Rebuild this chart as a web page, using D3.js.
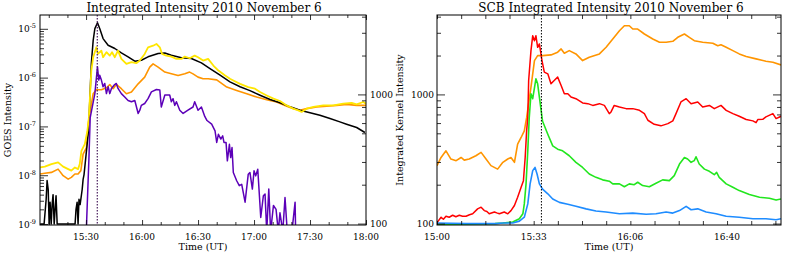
<!DOCTYPE html>
<html>
<head>
<meta charset="utf-8">
<script src="https://cdn.jsdelivr.net/npm/d3@7"></script>
<style>
  body { margin: 0; background: #fff; }
  text { font-family: "DejaVu Serif", serif; fill: #000; }
</style>
</head>
<body>
<svg id="chart" width="789" height="255"></svg>
<script>
// every series: [minutes after 15:00 UT, value]

// GOES 1-8 A flux (left panel, left axis)
const goesLong = [[5.4,1.0e-9],[7.5,1.0e-9],[8.6,3.2e-9],[9.1,7.8e-9],[9.7,5.1e-9],[10.2,1.0e-9],[10.7,2.8e-9],[11.3,1.0e-9],
  [11.8,2.5e-9],[12.3,4.0e-9],[12.9,1.0e-9],[13.4,2.0e-9],[13.9,3.8e-9],[14.5,1.0e-9],[24.1,1.0e-9],[24.6,2.0e-9],[25.2,2.8e-9],
  [25.7,1.0e-9],[26.2,3.2e-9],[26.8,2.5e-9],[27.9,5.1e-9],[28.4,8.2e-9],[28.9,1.03e-8],[30,2.65e-8],[31.1,6.8e-8],[31.6,1.5e-7],
  [32.8,1.95e-6],[33.8,5.8e-6],[34.7,1.01e-5],[36.1,1.33e-5],[37.3,1.01e-5],[39.1,6.3e-6],[41.8,4.6e-6],[45.4,3.95e-6],
  [48.9,3.2e-6],[52.5,2.67e-6],[56.1,2.17e-6],[59.6,2.27e-6],[63.2,2.67e-6],[68.6,3.12e-6],[72.2,3.2e-6],[75.7,2.88e-6],
  [81.1,2.55e-6],[86.4,2.46e-6],[91.8,2.01e-6],[96.4,1.53e-6],[101.8,1.12e-6],[107.1,8.2e-7],[112.5,6.5e-7],[117.8,5.4e-7],
  [123.2,4.36e-7],[128.6,3.56e-7],[133.9,3.05e-7],[139.3,2.52e-7],[144.6,2.15e-7],[150,1.9e-7],[155.3,1.7e-7],[160.7,1.45e-7],
  [166,1.24e-7],[169.6,1.11e-7],[175,9.5e-8],[179.4,7.5e-8]];

// GOES 0.5-4 A flux (left panel, left axis)
const goesShort = [[30.2,9e-10],[31.5,2.1e-8],[32.2,1.52e-7],[34.7,4.7e-7],[36.1,1.66e-6],[36.8,8.9e-7],[37.3,1.12e-6],
  [38.2,8.9e-7],[39.1,6.5e-7],[40,7.6e-7],[40.9,4.7e-7],[41.8,6.5e-7],[42.7,4.7e-7],[43.6,6.0e-7],[45,7.0e-7],[46.2,7.6e-7],
  [47.1,6.0e-7],[48.9,4.7e-7],[50.7,4.0e-7],[52.5,3.4e-7],[54.3,3.2e-7],[56.1,3.4e-7],[57.9,1.84e-7],[58.8,2.15e-7],
  [59.6,2.7e-7],[61.4,2.95e-7],[63.2,3.7e-7],[65,5.1e-7],[67.7,5.7e-7],[69.5,5.6e-7],[70.3,2.5e-7],[72.2,4.4e-7],[74.8,4.4e-7],
  [75.7,3.2e-7],[76.6,3.7e-7],[77.5,2.7e-7],[78.4,3.2e-7],[80.2,2.15e-7],[82,1.84e-7],[84.6,2.15e-7],[87.3,2.5e-7],
  [88.2,3.2e-7],[90,2.15e-7],[91.8,2.5e-7],[93.6,1.6e-7],[94.8,1.32e-7],[97.3,1.11e-7],[99.1,8.1e-8],[100,4.7e-8],
  [100.9,6.9e-8],[102.2,5.5e-8],[103.2,6.4e-8],[103.9,4.7e-8],[105,4.7e-8],[105.7,1.97e-8],[106.8,4.3e-8],[107.5,2.3e-8],
  [108.2,3.7e-8],[108.9,1.14e-8],[110.7,7.7e-9],[112.1,6.1e-9],[113.4,6.5e-9],[115.2,2.8e-9],[116.9,1.05e-8],[117.8,1.14e-8],
  [119.1,5.2e-9],[120,1.23e-8],[120.9,9.7e-9],[122,1.33e-8],[123.6,1.36e-9],[125,3.8e-9],[125.9,4.1e-9],[126.8,7e-10],
  [127.9,5.2e-9],[128.9,7e-10],[130.4,2.4e-9],[131.8,2.0e-9],[133,7e-10],[133.9,1.7e-9],[135.4,7e-10],[136.6,3.5e-9],
  [137.8,7e-10],[140.3,7e-10],[142,2.8e-9],[142.3,7e-10]];

// kernel intensities drawn in the left panel (right axis)
const kernelYellow = [[5.4,272],[7.9,276],[11.4,289],[15,298],[17.7,276],[20.4,264],[22.1,257],[24,272],[25.7,264],
  [26.6,289],[27.5,366],[29.3,412],[30.7,522],[31.5,661],[32.8,1531],[33.8,1941],[35.5,2317],[36.4,2059],[38.2,2183],
  [39.1,1941],[40.9,2123],[42.7,1997],[43.9,2123],[45.4,1941],[47.1,2183],[48.9,1884],[51.6,1724],[54.3,1777],[56.9,1745],
  [58.8,1828],[61.4,2059],[63.2,2317],[65.9,2384],[67.7,2459],[69.5,2317],[70.7,2059],[73,1997],[75.7,1963],[78.4,1884],
  [81.1,1884],[82.9,1963],[85.5,1906],[88.2,1997],[90,1941],[92.7,1828],[95.4,1884],[98.2,1673],[100.9,1531],[104.5,1400],
  [107.1,1321],[108.9,1282],[112.5,1208],[116.9,1140],[120.5,1107],[123.2,1043],[126.8,982],[130.4,927],[133.9,889],
  [137.5,822],[141.1,776],[143.7,753],[145.5,732],[148.2,776],[151.8,800],[157.1,822],[162.5,822],[167.8,848],[172.3,859],
  [175,837],[178.5,874],[180,848]];

const kernelOrange = [[5.4,242],[7.9,245],[11.4,249],[15,264],[17.7,235],[20.4,221],[22.1,228],[24,242],[25.7,242],
  [27.2,257],[28.4,345],[30.2,388],[31.1,587],[32,710],[33.8,1012],[35.5,1087],[38.2,1087],[40.9,1127],[42.7,1194],
  [44.5,1107],[46.2,1194],[48.9,1107],[51.6,1012],[54.3,1043],[57.9,1208],[61.4,1361],[64.1,1626],[65.9,1724],[68.6,1626],
  [72.2,1489],[75.7,1443],[79.3,1400],[82.9,1443],[85.5,1489],[87.3,1443],[90,1361],[92.7,1321],[95.4,1321],[100,1297],
  [105.4,1140],[110.7,1074],[116.1,1012],[121.4,955],[126.8,910],[132.1,874],[137.5,809],[141.1,776],[144.6,753],
  [148.2,776],[153.6,800],[158.9,809],[164.3,822],[169.6,837],[175,822],[180,822]];

// SCB kernels (right panel)
const scbOrange = [[0,281],[1.4,325],[3.1,366],[4.8,316],[6.6,307],[8.3,325],[9.4,310],[11.1,316],[13.4,335],[15.2,356],
  [16.9,316],[18.6,281],[20.9,264],[22.7,298],[24.4,316],[25.5,325],[26.7,298],[27.8,412],[29,464],[30.1,522],[30.9,661],
  [32.4,1140],[33.6,1828],[34.7,1997],[36.4,1997],[39.3,2023],[41.6,2123],[42.8,2250],[43.9,2084],[45.6,2183],[47.9,2059],
  [50.2,1828],[52.5,1941],[56,2059],[58.3,2317],[60.6,2685],[62.9,3112],[64.6,3404],[66.3,3404],[67.5,3208],[69.2,3208],
  [71.5,2936],[74.4,2685],[76.7,2535],[79,2535],[81.3,2577],[83,2768],[85.3,2936],[87,2768],[88.7,2607],[91.6,2535],
  [95.1,2489],[96.8,2384],[97.9,2427],[99.7,2317],[102,2183],[104.2,2059],[106.6,1963],[110,1884],[113.4,1807],
  [115.8,1777],[118.6,1693]];

const scbRed = [[0.2,103],[1.4,112],[2.2,108],[3.1,114],[4.2,112],[5.4,116],[6.5,113],[7.7,116],[8.8,114],[10,114],
  [11.2,117],[12.3,119],[14,130],[15.2,134],[16.3,126],[17.2,124],[18,119],[19.8,123],[20.6,121],[21.5,119],[23.2,123],
  [24.4,119],[25.5,126],[26.7,138],[27.8,160],[29,191],[29.8,215],[30.4,325],[30.9,522],[31.3,661],[31.6,1282],[32.4,2183],
  [33,2851],[33.6,2607],[34.1,2851],[34.7,2317],[35.3,2459],[36.2,1828],[37,1489],[38.2,1443],[39.3,1208],[40.4,1282],
  [41.6,1361],[42.8,1173],[43.9,1012],[45.1,1012],[46.2,955],[47.9,927],[50.2,859],[52,848],[53.7,822],[56,848],[57.7,822],
  [59.4,710],[60,732],[61.1,822],[62.9,800],[65.2,776],[67.5,776],[69.8,753],[71.5,710],[72.7,631],[74.9,587],[77.2,571],
  [79.6,594],[81.3,624],[81.8,661],[82.4,710],[84.1,874],[85.9,927],[87.6,848],[89.9,874],[91.6,800],[93.9,822],[95.6,776],
  [97.9,822],[99.7,753],[102,710],[104.2,677],[106.6,639],[108.9,624],[110,605],[110.6,639],[112.3,642],[113.4,670],
  [115.8,710],[116.9,650],[118.6,677]];

const scbGreen = [[0,98],[10,99],[20,100],[22.7,101],[26.1,103],[28.4,109],[29.6,119],[30.1,142],[30.7,203],[31.3,366],
  [31.8,661],[32.4,1012],[33,927],[34.1,1321],[34.7,1208],[35.9,753],[36.4,620],[38.2,492],[39.9,400],[41.6,377],[43.3,366],
  [45.6,335],[47.9,298],[50.2,272],[52.5,242],[54.8,228],[57.1,218],[59.4,213],[60.6,203],[62.9,203],[64.6,193],[66.3,203],
  [68,200],[69.2,209],[70.9,197],[73.2,193],[75.5,205],[77.8,218],[80.1,215],[81.8,235],[83.6,289],[85.3,325],[86.4,316],
  [87.6,298],[88.7,307],[89.3,329],[90.4,289],[92.2,264],[93.9,254],[95.6,239],[96.4,249],[97.3,228],[99.7,203],[102,191],
  [104.2,180],[107.7,168],[111.2,160],[114.6,157],[116.9,152],[118.6,155]];

const scbBlue = [[0,101],[10,100],[20.3,100],[22.7,101],[26.1,101],[28.4,104.5],[30.1,112],[31.3,142],[32.1,203],[33,257],
  [33.8,272],[34.5,242],[35.3,203],[36.4,185],[38.2,170],[39.9,155],[42.2,146],[45.1,141],[47.9,136],[51.4,130],[54.8,125],
  [58.3,123],[62.9,119],[67.5,120.5],[72.1,118],[75.5,119],[79,123],[81.3,120.5],[83.6,126],[85.9,136],[87.6,128],[89.9,130],
  [92.8,123],[96.2,119],[99.7,114],[104.2,112],[108.9,109],[113.4,109],[116.9,107],[118.6,109]];

// ticks and labels
const leftTimeTicks = [30, 60, 90, 120, 150, 180];
const leftTimeLabels = ["15:30", "16:00", "16:30", "17:00", "17:30", "18:00"];
const rightTimeTicks = [0, 100 / 3, 200 / 3, 100];
const rightTimeLabels = ["15:00", "15:33", "16:06", "16:40"];
const goesTicks = [1e-9, 1e-8, 1e-7, 1e-6, 1e-5];
const goesExponents = ["-9", "-8", "-7", "-6", "-5"];
const kernelTicks = [100, 1000];
const kernelLabels = ["100", "1000"];
const flareMinute = 36;

const svg = d3.select("#chart");
svg.append("rect").attr("width", 789).attr("height", 255).attr("fill", "#fff");

const plotTop = 15, plotBottom = 225;

// inward ticks on one side of a box
function ticks(g, scale, values, side, pos, len) {
    let axis;
    if (side == "bottom") axis = d3.axisBottom(scale).tickSize(-len);
    else if (side == "top") axis = d3.axisTop(scale).tickSize(-len);
    else if (side == "left") axis = d3.axisLeft(scale).tickSize(-len);
    else axis = d3.axisRight(scale).tickSize(-len);
    axis.tickValues(values).tickFormat("").tickSizeOuter(0);
    let tr = (side == "bottom" || side == "top") ? "translate(0," + pos + ")" : "translate(" + pos + ",0)";
    let a = g.append("g").attr("transform", tr).call(axis);
    a.select(".domain").remove();
    a.selectAll("line").attr("stroke", "#000").attr("stroke-width", 0.8);
}

function logMinor(scale) {
    return scale.ticks().filter(v => Math.abs(Math.log10(v) - Math.round(Math.log10(v))) > 1e-6);
}

function timeMinor(domain, step) {
    let out = [];
    for (let m = Math.ceil(domain[0] / step) * step; m <= domain[1] + 1e-6; m += step) out.push(m);
    return out;
}

function drawLine(g, data, x, y, color, width) {
    let line = d3.line().x(d => x(d[0])).y(d => y(d[1]));
    g.append("path").datum(data).attr("d", line)
        .attr("fill", "none").attr("stroke", color)
        .attr("stroke-width", width).attr("stroke-linejoin", "round");
}

function panel(id, left, right, xDomain) {
    let g = svg.append("g");
    let x = d3.scaleLinear().domain(xDomain).range([left, right]);
    svg.append("clipPath").attr("id", id).append("rect")
        .attr("x", left).attr("y", plotTop).attr("width", right - left).attr("height", plotBottom - plotTop);
    let plot = g.append("g").attr("clip-path", "url(#" + id + ")");
    return {g: g, x: x, plot: plot};
}

const goesY = d3.scaleLog().domain([Math.pow(10, -9.02), Math.pow(10, -4.717)]).range([plotBottom, plotTop]);
const kernelY = d3.scaleLog().domain([97.5, 4120]).range([plotBottom, plotTop]);

// ---------- left panel ----------
const L = panel("clipL", 40, 366, [5.3, 180]);
drawLine(L.plot, kernelOrange, L.x, kernelY, "#ff9500", 1.6);
drawLine(L.plot, goesLong, L.x, goesY, "#000", 1.5);
drawLine(L.plot, kernelYellow, L.x, kernelY, "#ffe600", 1.8);
drawLine(L.plot, goesShort, L.x, goesY, "#5c00b8", 1.5);
L.plot.append("line").attr("x1", L.x(flareMinute)).attr("x2", L.x(flareMinute))
    .attr("y1", plotTop).attr("y2", plotBottom).attr("stroke", "#4a1e5e")
    .attr("stroke-width", 1.2).attr("stroke-dasharray", "1.5,1.5");

L.g.append("rect").attr("x", 40).attr("y", plotTop).attr("width", 326).attr("height", plotBottom - plotTop)
    .attr("fill", "none").attr("stroke", "#000").attr("stroke-width", 1);

let leftMinor = timeMinor(L.x.domain(), 10).filter(m => leftTimeTicks.indexOf(m) < 0);
ticks(L.g, L.x, leftTimeTicks, "bottom", plotBottom, 5);
ticks(L.g, L.x, leftMinor, "bottom", plotBottom, 3);
ticks(L.g, L.x, leftTimeTicks, "top", plotTop, 5);
ticks(L.g, L.x, leftMinor, "top", plotTop, 3);
ticks(L.g, goesY, goesTicks, "left", 40, 8);
ticks(L.g, goesY, logMinor(goesY), "left", 40, 4);
ticks(L.g, kernelY, kernelTicks, "right", 366, 8);
ticks(L.g, kernelY, logMinor(kernelY), "right", 366, 4);

leftTimeTicks.forEach((m, i) => {
    L.g.append("text").attr("x", L.x(m)).attr("y", 240).attr("text-anchor", "middle")
        .style("font-size", "9px").text(leftTimeLabels[i]);
});
goesTicks.forEach((v, i) => {
    let t = L.g.append("text").attr("x", 36).attr("y", goesY(v) + 3.5)
        .attr("text-anchor", "end").style("font-size", "9px");
    t.append("tspan").text("10");
    t.append("tspan").attr("dy", -4).style("font-size", "6.5px").text(goesExponents[i]);
});
kernelTicks.forEach((v, i) => {
    L.g.append("text").attr("x", 370).attr("y", kernelY(v) + 3.5)
        .style("font-size", "9px").text(kernelLabels[i]);
});
L.g.append("text").attr("x", 204).attr("y", 11.5).attr("text-anchor", "middle")
    .style("font-size", "12px").text("Integrated Intensity 2010 November 6");
L.g.append("text").attr("x", 203).attr("y", 250).attr("text-anchor", "middle")
    .style("font-size", "9.5px").text("Time (UT)");
L.g.append("text").attr("transform", "translate(11,120) rotate(-90)").attr("text-anchor", "middle")
    .style("font-size", "9.5px").text("GOES Intensity");

// ---------- right panel ----------
const R = panel("clipR", 437, 781, [0, 118.6]);
drawLine(R.plot, scbOrange, R.x, kernelY, "#ff9500", 1.6);
drawLine(R.plot, scbRed, R.x, kernelY, "#ff0000", 1.5);
drawLine(R.plot, scbGreen, R.x, kernelY, "#22e61e", 1.6);
drawLine(R.plot, scbBlue, R.x, kernelY, "#1e8cff", 1.6);
R.plot.append("line").attr("x1", R.x(flareMinute)).attr("x2", R.x(flareMinute))
    .attr("y1", plotTop).attr("y2", plotBottom).attr("stroke", "#000")
    .attr("stroke-width", 1).attr("stroke-dasharray", "1.5,1.5");

R.g.append("rect").attr("x", 437).attr("y", plotTop).attr("width", 344).attr("height", plotBottom - plotTop)
    .attr("fill", "none").attr("stroke", "#000").attr("stroke-width", 1);

let rightMinor = timeMinor(R.x.domain(), 100 / 12);
ticks(R.g, R.x, rightMinor, "bottom", plotBottom, 4);
ticks(R.g, R.x, rightMinor, "top", plotTop, 4);
ticks(R.g, kernelY, kernelTicks, "left", 437, 8);
ticks(R.g, kernelY, logMinor(kernelY), "left", 437, 4);
ticks(R.g, kernelY, kernelTicks, "right", 781, 8);
ticks(R.g, kernelY, logMinor(kernelY), "right", 781, 4);

rightTimeTicks.forEach((m, i) => {
    R.g.append("text").attr("x", R.x(m)).attr("y", 240).attr("text-anchor", "middle")
        .style("font-size", "9px").text(rightTimeLabels[i]);
});
kernelTicks.forEach((v, i) => {
    R.g.append("text").attr("x", 434).attr("y", kernelY(v) + 3.5).attr("text-anchor", "end")
        .style("font-size", "9px").text(kernelLabels[i]);
});
R.g.append("text").attr("x", 611).attr("y", 11.5).attr("text-anchor", "middle")
    .style("font-size", "12px").text("SCB Integrated Intensity 2010 November 6");
R.g.append("text").attr("x", 609).attr("y", 250).attr("text-anchor", "middle")
    .style("font-size", "9.5px").text("Time (UT)");
R.g.append("text").attr("transform", "translate(403,120) rotate(-90)").attr("text-anchor", "middle")
    .style("font-size", "9.5px").text("Integrated Kernel Intensity");
</script>
</body>
</html>
